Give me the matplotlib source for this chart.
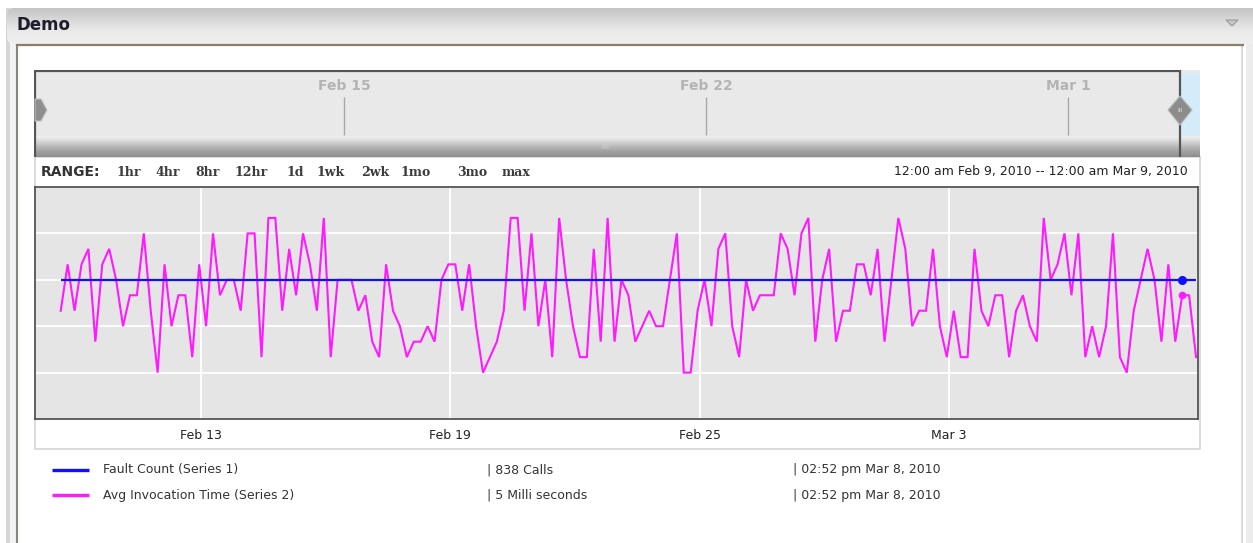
import datetime as dt

import numpy as np
import matplotlib
matplotlib.use("Agg")
import matplotlib.pyplot as plt
import matplotlib.dates as mdates
from matplotlib.patches import Rectangle, Polygon, FancyBboxPatch
from matplotlib.lines import Line2D

# ---------------------------------------------------------------- data
avg_ms = [
    4, 7, 4, 7, 8, 2, 7, 8, 6, 3, 5, 5, 9, 4, 0, 7, 3, 5, 5, 1,
    7, 3, 9, 5, 6, 6, 4, 9, 9, 1, 10, 10, 4, 8, 5, 9, 7, 4, 10, 1,
    6, 6, 6, 4, 5, 2, 1, 7, 4, 3, 1, 2, 2, 3, 2, 6, 7, 7, 4, 7,
    3, 0, 1, 2, 4, 10, 10, 4, 9, 3, 6, 1, 10, 6, 3, 1, 1, 8, 2, 10,
    2, 6, 5, 2, 3, 4, 3, 3, 6, 9, 0, 0, 4, 6, 3, 8, 9, 3, 1, 6,
    4, 5, 5, 5, 9, 8, 5, 9, 10, 2, 6, 8, 2, 4, 4, 7, 7, 5, 8, 2,
    6, 10, 8, 3, 4, 4, 8, 3, 1, 4, 1, 1, 8, 4, 3, 5, 5, 1, 4, 5,
    3, 2, 10, 6, 7, 9, 5, 9, 1, 3, 1, 3, 9, 1, 0, 4, 6, 8, 6, 2,
    7, 2, 5, 5, 1,
]
fault_calls = 838
first_sample = dt.datetime(2010, 2, 9, 14, 52)
sample_hours = 4
marker_idx = 162

range_start = dt.datetime(2010, 2, 9)
range_end = dt.datetime(2010, 3, 9)

tick_dates = [dt.datetime(2010, 2, 13), dt.datetime(2010, 2, 19),
              dt.datetime(2010, 2, 25), dt.datetime(2010, 3, 3)]
tick_labels = ["Feb 13", "Feb 19", "Feb 25", "Mar 3"]

nav_dates = [dt.datetime(2010, 2, 15), dt.datetime(2010, 2, 22),
             dt.datetime(2010, 3, 1)]
nav_labels = ["Feb 15", "Feb 22", "Mar 1"]

range_buttons = ["1hr", "4hr", "8hr", "12hr", "1d", "1wk", "2wk", "1mo", "3mo", "max"]

series_names = ["Fault Count (Series 1)", "Avg Invocation Time (Series 2)"]
series_colors = ["#1010ff", "#ff1aff"]

times = [first_sample + dt.timedelta(hours=sample_hours * k) for k in range(len(avg_ms))]

# ---------------------------------------------------------------- layout helpers
W, H = 1253, 543
fig = plt.figure(figsize=(W / 100, H / 100), dpi=100)
fig.patch.set_facecolor("white")
SMALL = 9.0


def rect(x0, y0, x1, y1):
    return [x0 / W, 1 - y1 / H, (x1 - x0) / W, (y1 - y0) / H]


def pixel_axes(z):
    a = fig.add_axes([0, 0, 1, 1])
    a.axis("off")
    a.set_zorder(z)
    a.patch.set_visible(False)
    return a


def vgrad(colors, n=64):
    cols = np.array([matplotlib.colors.to_rgb(c) for c in colors])
    pos = np.linspace(0, 1, len(cols))
    t = np.linspace(0, 1, n)
    arr = np.stack([np.interp(t, pos, cols[:, i]) for i in range(3)], axis=1)
    return arr[:, None, :]


bg = pixel_axes(0)

# window frame
bg.add_patch(Rectangle((6, 8), 4, H, color="#d6d6d6", lw=0))
bg.add_patch(Rectangle((10, 8), 6, H, color="#f3f3f3", lw=0))
bg.add_patch(Rectangle((1241, 44), 2, H, color="#d9d9d9", lw=0))
bg.add_patch(Rectangle((1246, 8), 7, H, color="#ececec", lw=0))
bg.add_line(Line2D([17, 17], [45, H], color="#8a8478", lw=1.5))

# title bar
hdr_clip = FancyBboxPatch((7, 8), W + 20, 36, boxstyle="round,pad=0,rounding_size=7",
                          transform=bg.transData, facecolor="none", edgecolor="none")
bg.add_patch(hdr_clip)
im = bg.imshow(vgrad(["#c4c4c4", "#d9d9d9", "#ebebeb", "#efefef"]),
               extent=(7, W, 44, 8), aspect="auto", interpolation="bilinear", zorder=1)
im.set_clip_path(hdr_clip)
bg.add_line(Line2D([17, 1243], [44.5, 44.5], color="#8b7d6b", lw=1.6, zorder=2))
bg.text(17, 25, "Demo", fontsize=12, fontweight="bold", color="#1c1c2c",
        va="center", ha="left", family="DejaVu Sans", zorder=3)
bg.add_patch(Polygon([(1226, 20), (1238, 20), (1232, 26)], closed=True,
                     facecolor="#c8c8c8", edgecolor="#9a9a9a", lw=0.8, zorder=3))

# chart frame, range bar and tick strip
bg.add_patch(Rectangle((35, 157), 1165, 292, facecolor="white", edgecolor="#d4d4d4", lw=1.2))
bg.text(41, 172, "RANGE:", fontsize=10, fontweight="bold", color="#333333",
        va="center", ha="left", family="DejaVu Sans")
button_x = [117, 155, 195, 235, 286, 317, 361, 401, 457, 502]
for bx, lab in zip(button_x, range_buttons):
    bg.text(bx, 172, lab, fontsize=9, fontweight="bold", color="#3c3c3c",
            va="center", ha="left", family="DejaVu Serif")


def fmt_time(t):
    return "{}:{:02d} {} {} {}, {}".format(
        t.strftime("%I"), t.minute, t.strftime("%p").lower(),
        t.strftime("%b"), t.day, t.year)


range_text = "{} -- {}".format(fmt_time(range_start), fmt_time(range_end))
bg.text(1188, 172, range_text, fontsize=SMALL, color="#222222",
        va="center", ha="right", family="DejaVu Sans")

# legend rows
latest_values = ["{} Calls".format(fault_calls),
                 "{} Milli seconds".format(avg_ms[marker_idx])]
for k, (name, col, val) in enumerate(zip(series_names, series_colors, latest_values)):
    y = 470 + 25 * k
    bg.add_line(Line2D([52, 89], [y, y], color=col, lw=2.4, solid_capstyle="butt"))
    bg.text(103, y, name, fontsize=SMALL, color="#333333", va="center", ha="left",
            family="DejaVu Sans")
    bg.text(487, y, "| " + val, fontsize=SMALL, color="#333333", va="center", ha="left",
            family="DejaVu Sans")
    bg.text(793, y, "| " + fmt_time(times[marker_idx]), fontsize=SMALL, color="#333333",
            va="center", ha="left", family="DejaVu Sans")

bg.set_xlim(0, W)
bg.set_ylim(H, 0)

# ---------------------------------------------------------------- navigator
px_per_day = 51.71
nav_left = dt.datetime(2010, 2, 9)
nav_right = nav_left + dt.timedelta(days=(1200 - 34) / px_per_day)
sel_right = nav_left + dt.timedelta(days=(1180 - 34) / px_per_day)

nav = fig.add_axes(rect(34, 70, 1200, 157))
nav.set_zorder(1)
nav.set_facecolor("#e9e9e9")
for s in nav.spines.values():
    s.set_visible(False)
nav.set_xticks([])
nav.set_yticks([])
x0n, x1n = mdates.date2num(nav_left), mdates.date2num(nav_right)
xs = mdates.date2num(sel_right)
nav.imshow(vgrad(["#f0f0f0", "#d8d8d8", "#b8b8b8", "#a0a0a0", "#8e8e8e"]),
           extent=(x0n, x1n, 157, 136), aspect="auto", interpolation="bilinear", zorder=1)
nav.add_patch(Rectangle((xs, 73), x1n - xs, 63, facecolor="#d4ecfa", edgecolor="none", zorder=2))
for d, lab in zip(nav_dates, nav_labels):
    nav.text(d, 86, lab, fontsize=10, fontweight="bold", color="#b4b4b4",
             ha="center", va="center", family="DejaVu Sans", zorder=3)
    nav.vlines(d, 97, 135, color="#a8a8a8", lw=1, zorder=3)
nav.text(x0n + (605 - 34) / px_per_day, 147, "IIII", fontsize=5,
         color="#d0d0d0", ha="center", va="center", zorder=3)
nav.plot([x0n, xs], [70.5, 70.5], color="#555555", lw=1.6, zorder=4, solid_capstyle="butt")
nav.plot([x0n + 0.02, x0n + 0.02], [70, 157], color="#555555", lw=1.6, zorder=4)
nav.plot([xs, xs], [70, 157], color="#555555", lw=1.6, zorder=4)
nav.set_xlim(x0n, x1n)
nav.set_ylim(157, 70)

# navigator handles
fg = pixel_axes(3)
fg.add_patch(Polygon([(35, 99), (41, 99), (47, 110), (41, 121), (35, 121)], closed=True,
                     facecolor="#8e8e8e", edgecolor="#c0c0c0", lw=0.8))
fg.add_patch(Polygon([(1180, 96), (1192, 110), (1180, 125), (1168, 110)], closed=True,
                     facecolor="#8c8c8c", edgecolor="#b8b8b8", lw=0.8))
fg.text(1180, 110.5, "III", fontsize=4.5, color="#e0e0e0", ha="center", va="center")
fg.set_xlim(0, W)
fg.set_ylim(H, 0)

# ---------------------------------------------------------------- main plot
ax = fig.add_axes(rect(35, 187, 1198, 419))
ax.set_zorder(2)
ax.set_facecolor("#e5e5e5")
ax.plot(times, avg_ms, color=series_colors[1], lw=1.5, zorder=3, solid_joinstyle="miter")
ax.plot([times[marker_idx]], [avg_ms[marker_idx]], "o", color=series_colors[1], ms=4.5, zorder=4)
ax.set_xlim(mdates.date2num(range_start), mdates.date2num(range_end))
ax.set_ylim(-3, 12)
ax.set_yticks([0, 3, 6, 9])
ax.set_xticks(mdates.date2num(tick_dates))
ax.set_xticklabels(tick_labels, fontsize=SMALL, color="#222222", family="DejaVu Sans")
ax.tick_params(axis="x", length=0, pad=7.5)
ax.tick_params(axis="y", length=0, labelleft=False)
ax.grid(True, color="white", lw=1.3, zorder=0)
ax.set_axisbelow(True)
for s in ax.spines.values():
    s.set_color("#555555")
    s.set_linewidth(1.3)

ax2 = ax.twinx()
ax2.set_ylim(0, fault_calls / 0.6)
ax2.hlines(fault_calls, mdates.date2num(times[0]), mdates.date2num(times[-1]),
           color=series_colors[0], lw=1.6, zorder=3)
ax2.plot([times[marker_idx]], [fault_calls], "o", color=series_colors[0], ms=5.5, zorder=4)
ax2.set_yticks([])
for s in ax2.spines.values():
    s.set_visible(False)
ax2.set_xlim(mdates.date2num(range_start), mdates.date2num(range_end))

fig.savefig("out.png", dpi=100, facecolor="white")
